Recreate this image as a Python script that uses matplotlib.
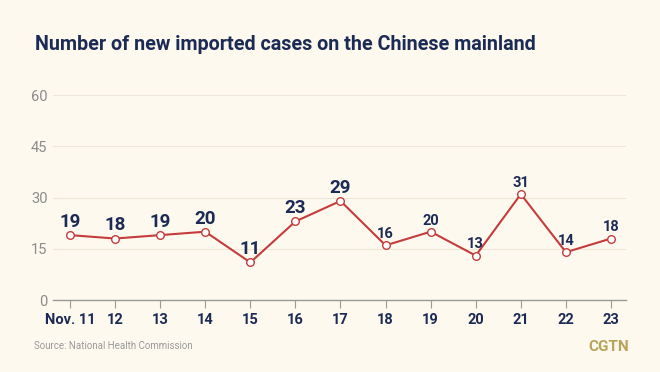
"""Line chart: new imported cases on the Chinese mainland, Nov. 11-23."""

import matplotlib

matplotlib.use("Agg")
import matplotlib.pyplot as plt

days = ["Nov. 11", "12", "13", "14", "15", "16", "17", "18", "19", "20", "21", "22", "23"]
cases = [19, 18, 19, 20, 11, 23, 29, 16, 20, 13, 31, 14, 18]
big_label = [True, True, True, True, True, True, True, False, False, False, False, False, False]
y_ticks = [0, 15, 30, 45, 60]

BG = "#fdf9ee"
NAVY = "#1c2b55"
RED = "#c43c3c"
GREY = "#8c8c8c"

plt.rcParams["font.family"] = ["Roboto", "DejaVu Sans"]

fig = plt.figure(figsize=(6.6, 3.72), dpi=100, facecolor=BG)
ax = fig.add_axes([0.0803, 0.1935, 0.868, 0.551], facecolor=BG)

x = list(range(len(days)))
ax.plot(x, cases, color=RED, linewidth=1.5, zorder=3)
ax.scatter(x, cases, s=30, facecolor="white", edgecolor=RED, linewidth=1.0, zorder=4)

for xi, v, big in zip(x, cases, big_label):
    ax.annotate(str(v), (xi, v), xytext=(0, 3), textcoords="offset points",
                ha="center", va="bottom", color=NAVY, fontweight="bold",
                fontsize=13.5 if big else 10.5)

ax.set_xlim(-0.377, 12.33)
ax.set_ylim(0, 60)
ax.set_yticks(y_ticks)
ax.set_yticklabels([str(t) for t in y_ticks], color=GREY, fontsize=10.5)
ax.set_xticks(x)
ax.set_xticklabels(days, color=NAVY, fontsize=10.5, fontweight="bold")

ax.grid(True, axis="y", color="#ece7d8", linewidth=0.8, zorder=0)
for side in ["top", "right", "left"]:
    ax.spines[side].set_visible(False)
ax.spines["bottom"].set_color("#9a9a9a")
ax.spines["bottom"].set_linewidth(1.0)
ax.tick_params(axis="x", length=6, color="#9a9a9a", pad=3)
ax.tick_params(axis="y", length=0, pad=4)

fig.text(0.053, 0.865, "Number of new imported cases on the Chinese mainland",
         color=NAVY, fontsize=14.2, fontweight="bold", ha="left", va="baseline")
fig.text(0.052, 0.062, "Source: National Health Commission", color="#9a9a9a",
         fontsize=7, ha="left", va="baseline")
fig.text(0.953, 0.056, "CGTN", color="#b8a45a", fontsize=11, fontweight="bold",
         ha="right", va="baseline")

fig.savefig("out.png", dpi=100, facecolor=BG)
